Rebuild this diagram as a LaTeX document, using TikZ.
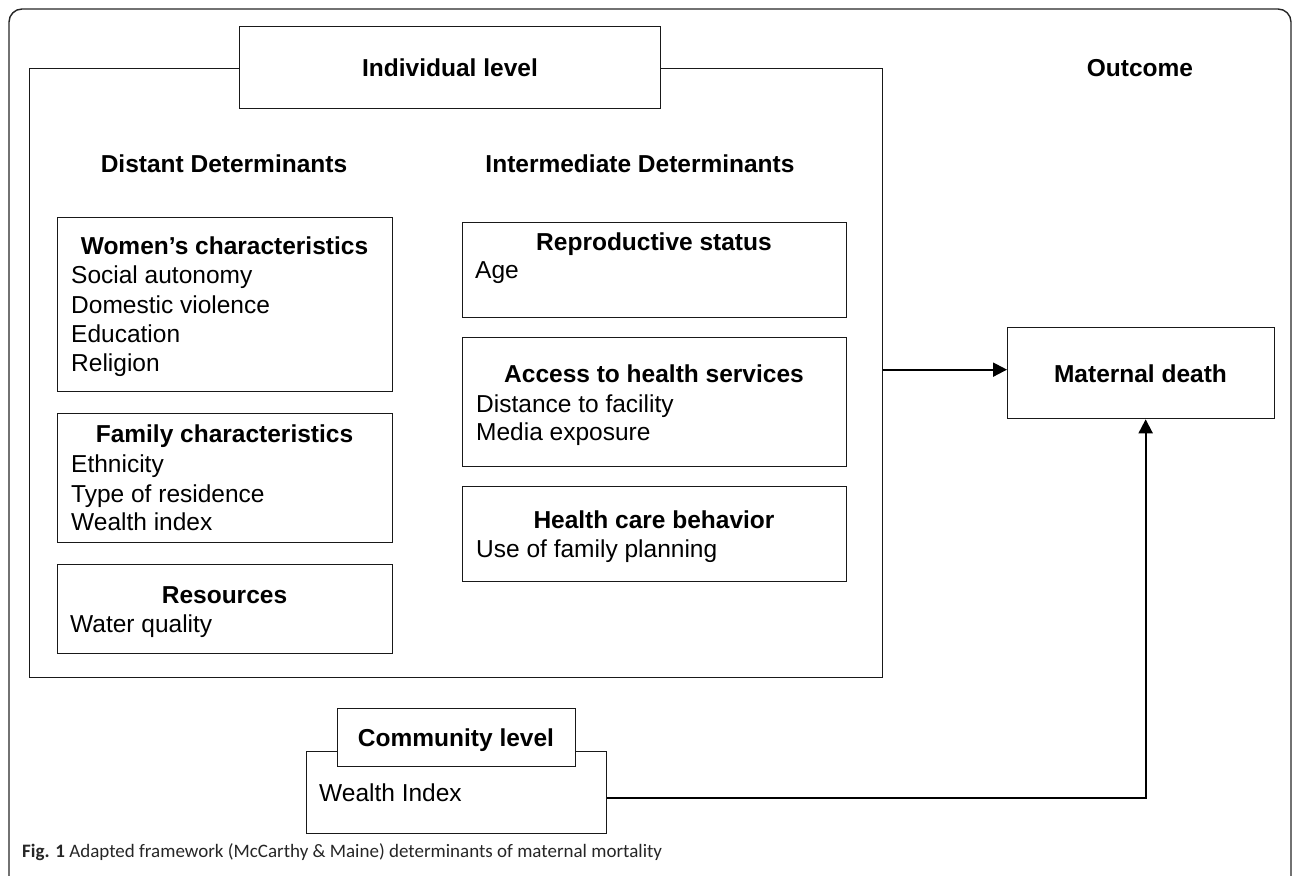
\documentclass[tikz,border=0pt]{standalone}
\usepackage{fontspec}
\setmainfont{Liberation Sans}
\newfontfamily\capfont{Carlito}
\usetikzlibrary{arrows.meta}
\newcommand\myfs{\fontsize{24.5}{29.5}\selectfont}
\tikzset{
  box/.style={draw=black!90, line width=1.3pt, fill=white, inner sep=0pt, anchor=north west},
  ttl/.style={anchor=base, inner sep=0pt, font=\myfs\bfseries},
  itm/.style={anchor=base west, inner sep=0pt, font=\myfs},
  conn/.style={draw=black, line width=2pt, -{Triangle[length=14pt,width=14pt]}},
}
\begin{document}
\begin{tikzpicture}[x=1pt,y=-1pt]
\useasboundingbox (0,0) rectangle (1292,875);
\begin{scope}
\clip (0,0) rectangle (1292,875);
\draw[black!85, line width=1.4pt, rounded corners=13pt] (9,9) rectangle (1291,920);
\end{scope}
% individual level
\node[box, minimum width=853pt, minimum height=609pt] (indiv) at (29,68) {};
\node[box, minimum width=421pt, minimum height=82pt] (indhead) at (239,26) {};
\node[ttl] (indtxt) at (450,76) {Individual level};
\node[ttl] (outc) at (1140,76) {Outcome};
\node[ttl] (dist) at (224,172) {Distant Determinants};
\node[ttl] (inter) at (640,172) {Intermediate Determinants};
% women
\node[box, minimum width=335pt, minimum height=174pt] (women) at (57,217) {};
\node[ttl] (wt) at (224.5,254) {Women’s characteristics};
\node[itm] (w1) at (71,283) {Social autonomy};
\node[itm] (w2) at (71,313) {Domestic violence};
\node[itm] (w3) at (71,342) {Education};
\node[itm] (w4) at (71,371) {Religion};
% family
\node[box, minimum width=335pt, minimum height=129pt] (family) at (57,413) {};
\node[ttl] (ft) at (224.5,442) {Family characteristics};
\node[itm] (f1) at (71,472) {Ethnicity};
\node[itm] (f2) at (71,502) {Type of residence};
\node[itm] (f3) at (71,530) {Wealth index};
% resources
\node[box, minimum width=335pt, minimum height=89pt] (res) at (57,564) {};
\node[ttl] (rt) at (224.5,603) {Resources};
\node[itm] (r1) at (70,632) {Water quality};
% reproductive
\node[box, minimum width=384pt, minimum height=95pt] (repro) at (462,222) {};
\node[ttl] (rpt) at (654,250) {Reproductive status};
\node[itm] (rp1) at (475,278) {Age};
% access
\node[box, minimum width=384pt, minimum height=129pt] (access) at (462,337) {};
\node[ttl] (at) at (654,382) {Access to health services};
\node[itm] (a1) at (476,412) {Distance to facility};
\node[itm] (a2) at (476,440) {Media exposure};
% health care
\node[box, minimum width=384pt, minimum height=95pt] (hcb) at (462,486) {};
\node[ttl] (ht) at (654,528) {Health care behavior};
\node[itm] (h1) at (476,557) {Use of family planning};
% maternal death
\node[box, minimum width=267pt, minimum height=91pt] (md) at (1007,327) {};
\node[ttl] (mdt) at (1140.5,382) {Maternal death};
% community
\node[box, minimum width=300pt, minimum height=82pt] (comm) at (306,751) {};
\node[box, minimum width=238pt, minimum height=58pt] (commhead) at (337,708) {};
\node[ttl] (ct) at (456,746) {Community level};
\node[itm] (c1) at (319,801) {Wealth Index};
% connectors
\coordinate (a1s) at ([yshift=3.5pt]md.west -| indiv.east);
\draw[conn] (a1s) -- ([yshift=3.5pt]md.west);
\draw[conn] ([yshift=-5pt]comm.east) -| ([xshift=4.5pt]md.south);
% caption
\node[anchor=base west, inner sep=0pt, font=\capfont\fontsize{19}{22}\selectfont, text=black!85] (cap) at (22,857) {\textbf{Fig. 1} Adapted framework (McCarthy \& Maine) determinants of maternal mortality};
\end{tikzpicture}
\end{document}
